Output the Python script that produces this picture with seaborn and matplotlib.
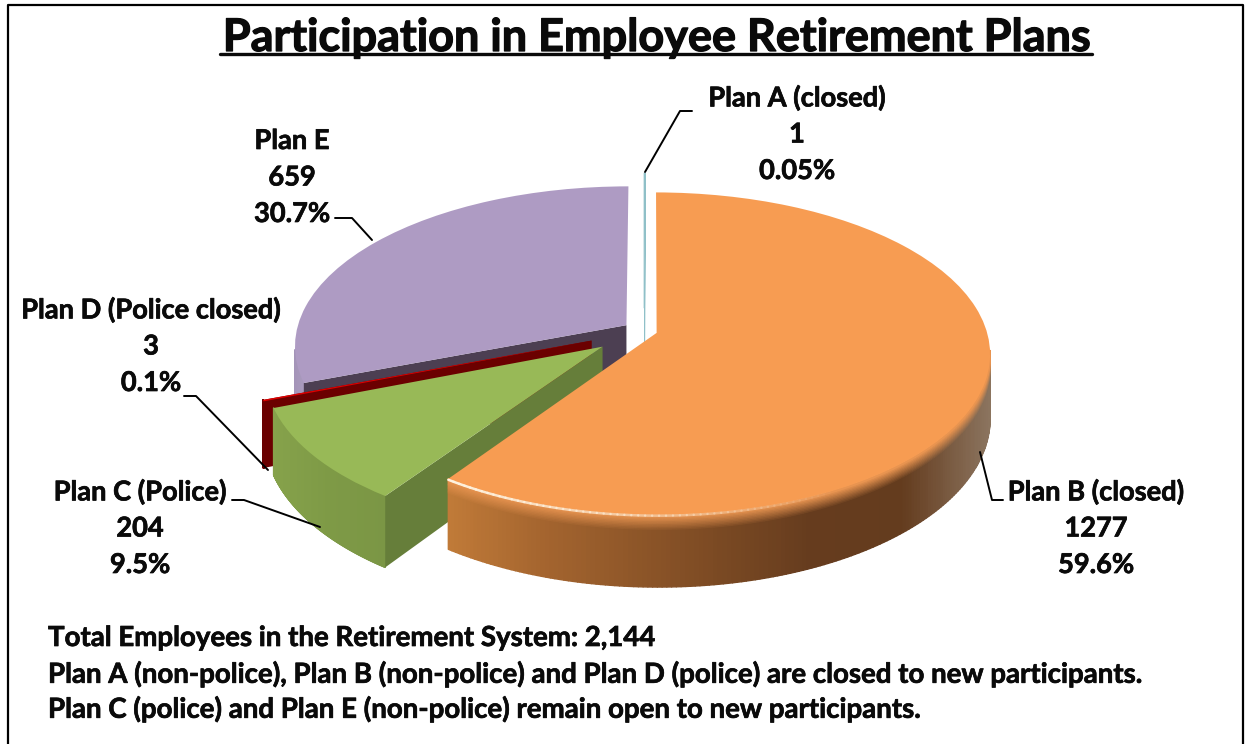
import numpy as np
import matplotlib
matplotlib.use("Agg")
import matplotlib.pyplot as plt
import matplotlib.patheffects as pe
import matplotlib.transforms as mtransforms
from matplotlib.collections import PolyCollection
import seaborn as sns

# values
plan_names = ["Plan A (closed)", "Plan B (closed)", "Plan C (Police)", "Plan D (Police closed)", "Plan E"]
plan_counts = [1, 1277, 204, 3, 659]
plan_pcts = ["0.05%", "59.6%", "9.5%", "0.1%", "30.7%"]
title_text = "Participation in Employee Retirement Plans"
notes = [
    "Total Employees in the Retirement System: 2,144",
    "Plan A (non-police), Plan B (non-police) and Plan D (police) are closed to new participants.",
    "Plan C (police) and Plan E (non-police) remain open to new participants.",
]

sns.set_theme(style="white")
plt.rcParams["font.family"] = ["Lato", "DejaVu Sans"]

# tilt of the pie, in pixels of the figure
CX, CY = 644, 331
RX, RY = 330, 158
PERSP = 0.128
DEPTH = 63


def tilt(u, v):
    s = 1 / (1 + PERSP * v)
    return CX + RX * u * s, CY - RY * v * s, s


class TiltTransform(mtransforms.Transform):
    input_dims = 2
    output_dims = 2
    is_separable = False
    has_inverse = False

    def transform_non_affine(self, values):
        x, y, _ = tilt(values[:, 0], values[:, 1])
        return np.column_stack([x, y])


fig, ax = plt.subplots(figsize=(12.45, 7.44), dpi=100)
fig.subplots_adjust(0, 0, 1, 1)

top_colors = ["#FFFFFF", "#F79C52", "#98B957", "#E00000", "#AE9BC3"]
explode = [0.147, 0.04, 0.158, 0.169, 0.065]
wedges, _ = ax.pie(plan_counts, explode=explode, colors=top_colors, startangle=90, counterclock=False,
                   wedgeprops={"linewidth": 0, "edgecolor": "none"})

ax.set_aspect("auto")
ax.set_xlim(0, 1245)
ax.set_ylim(744, 0)
ax.set_axis_off()

to_px = TiltTransform() + ax.transData
for w in wedges:
    w.set_transform(to_px)


def corner(w, deg):
    a = np.deg2rad(deg)
    return w.center[0] + w.r * np.cos(a), w.center[1] + w.r * np.sin(a)


def cut_face(w, deg, color, z, edge="none"):
    # flat face between the centre of a slice and its rim
    cu, cv = w.center
    ou, ov = corner(w, deg)
    x0, y0, s0 = tilt(cu, cv)
    x1, y1, s1 = tilt(ou, ov)
    quad = [[(x0, y0), (x1, y1), (x1, y1 + DEPTH * s1), (x0, y0 + DEPTH * s0)]]
    ax.add_collection(PolyCollection(quad, facecolors=color, edgecolors=edge, linewidths=0.6, zorder=z))


def rim_wall(w, stops, z, bevel=None):
    # curved outer wall, shaded along x with a lighter bevel under the top
    th = np.deg2rad(np.linspace(w.theta1, w.theta2, 300))
    u = w.center[0] + w.r * np.cos(th)
    v = w.center[1] + w.r * np.sin(th)
    x, y, s = tilt(u, v)
    # only the part below the widest point of the ellipse shows
    keep = v < -0.11
    x, y, s = x[keep], y[keep], s[keep]
    pal = np.array(sns.blend_palette(stops, n_colors=256))
    idx = np.clip(((x - x.min()) / (x.max() - x.min()) * 255).astype(int), 0, 255)
    if bevel is None:
        steps = np.array([0, 1.0])
    else:
        steps = np.append(np.linspace(0, 0.2, 11), 1.0)
    bev = None if bevel is None else np.array(matplotlib.colors.to_rgb(bevel))
    # bottom layer first so the bevel sits on top of the seams
    for j in range(len(steps) - 2, -1, -1):
        t0, t1 = steps[j], steps[j + 1]
        quads, cols = [], []
        for i in range(len(x) - 1):
            quads.append([(x[i], y[i] + DEPTH * s[i] * t0), (x[i + 1], y[i + 1] + DEPTH * s[i + 1] * t0),
                          (x[i + 1], y[i + 1] + DEPTH * s[i + 1] * t1), (x[i], y[i] + DEPTH * s[i] * t1)])
            c = pal[idx[i]]
            if bev is not None and j < len(steps) - 2:
                mix = 1 - j / (len(steps) - 2)
                c = c * (1 - mix) + bev * mix
            cols.append(c)
        ax.add_collection(PolyCollection(quads, facecolors=cols, edgecolors=cols, linewidths=1.0, zorder=z))


a_w, b_w, c_w, d_w, e_w = wedges

# back to front: E, D, C, A, B
rim_wall(e_w, ["#A494B8", "#A99ABD"], 1)
cut_face(e_w, e_w.theta2, "#4C3F52", 1.5)
e_w.set_zorder(2)

rim_wall(d_w, ["#7A0000", "#6B0000"], 3)
cut_face(d_w, d_w.theta1, "#6B0000", 3.2)
cut_face(d_w, d_w.theta2, "#6B0000", 3.2)
d_w.set_zorder(4)

rim_wall(c_w, ["#86A24B", "#7E9A46", "#7B9645"], 5)
cut_face(c_w, c_w.theta2, "#667E3A", 5.5)
c_w.set_zorder(6)

cut_face(a_w, a_w.theta1, "white", 7, edge="#8FC0C8")
a_w.set_edgecolor("#8FC0C8")
a_w.set_linewidth(0.6)
a_w.set_zorder(7)

rim_wall(b_w, ["#C07A38", "#A5652F", "#8F5729", "#7A4923", "#663C1E", "#643C1E", "#8C7560"], 8, bevel="#E89450")
b_w.set_zorder(9)

# shiny lip on the front-left of plan B
th = np.deg2rad(np.linspace(b_w.theta1, b_w.theta1 + 62, 60))
hx, hy, _ = tilt(b_w.center[0] + b_w.r * np.cos(th), b_w.center[1] + b_w.r * np.sin(th))
for i in range(len(hx) - 1):
    ax.plot(hx[i:i + 2], hy[i:i + 2] + 1, color="#FFF3E0", alpha=1 - i / 60, lw=1.8, zorder=10,
            solid_capstyle="round")

# lato bold is a bit lighter than the original face
heavy = [pe.withStroke(linewidth=0.5, foreground="#0A0A0A")]
heavier = [pe.withStroke(linewidth=0.9, foreground="#0A0A0A")]

# data labels
label_x = [797, 1096, 140, 151, 292]
label_y = [98, 492, 492, 310, 141]
label_gap = 36.5
for i, name in enumerate(plan_names):
    lines = [name, str(plan_counts[i]), plan_pcts[i]]
    for j, line in enumerate(lines):
        ax.text(label_x[i], label_y[i] + j * label_gap, line, ha="center", va="center",
                fontsize=19.6, fontweight="bold", color="#0A0A0A", zorder=12, path_effects=heavy)

# leader lines
leaders = [
    ([645, 680, 692], [172, 111, 111]),
    ([980, 992, 1003], [452, 500, 500]),
    ([232, 244, 320], [500, 500, 527]),
    ([184, 196, 268], [396, 396, 470]),
    ([335, 352, 372], [218, 218, 240]),
]
for lx, ly in leaders:
    ax.plot(lx, ly, color="black", lw=1.4, zorder=11)

# title with underline
ax.text(656, 38, title_text, ha="center", va="center", fontsize=32.4, fontweight="bold", color="#0A0A0A",
        path_effects=heavier)
ax.plot([220, 1092], [53.5, 53.5], color="#0A0A0A", lw=2.4)

# footnotes
for yy, note in zip([638, 674, 709], notes):
    ax.text(48, yy, note, ha="left", va="center", fontsize=19.9, fontweight="bold", color="#0A0A0A",
            path_effects=heavy)

# frame, open at the bottom edge
ax.plot([8, 8, 1243, 1243], [744, 5, 5, 744], color="black", lw=1.6, clip_on=False)

fig.savefig("out.png", dpi=100)
